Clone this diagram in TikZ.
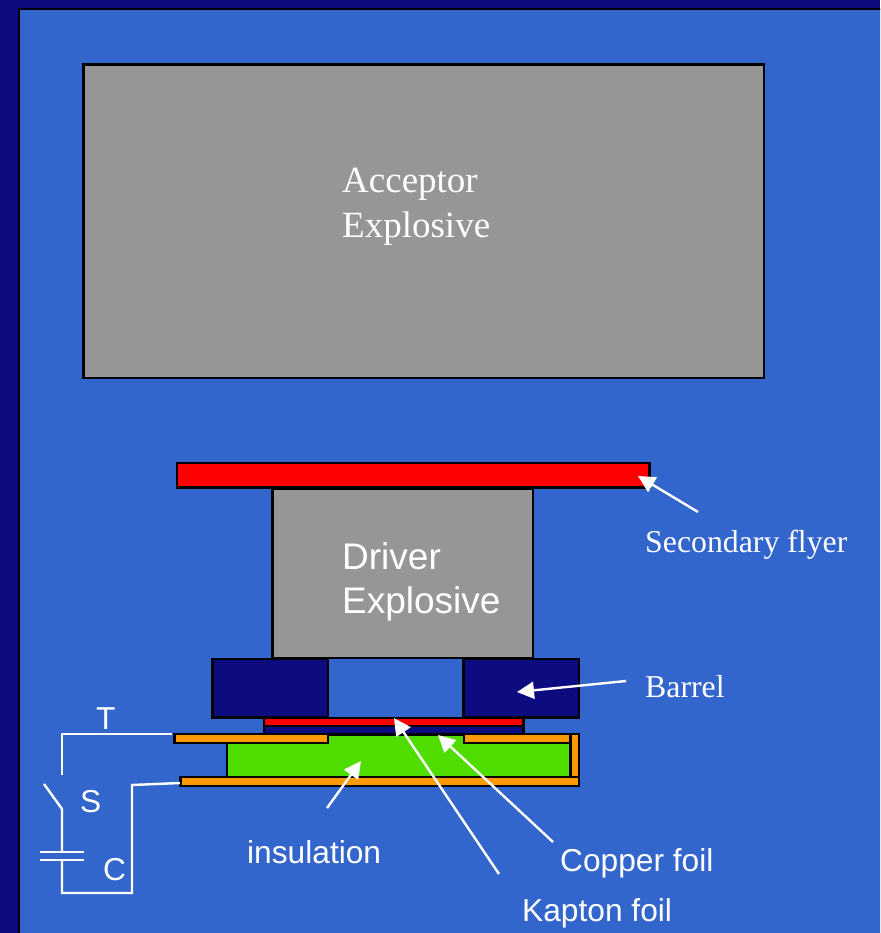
\documentclass[tikz,border=0pt]{standalone}
\usepackage{fontspec}
\setmainfont{Liberation Serif}
\setsansfont{Liberation Sans}
\usetikzlibrary{arrows.meta}
\definecolor{panelblue}{HTML}{3366CC}
\definecolor{navy}{HTML}{0C0C80}
\definecolor{boxgray}{HTML}{969696}
\definecolor{foilorange}{HTML}{FF9900}
\definecolor{insgreen}{HTML}{4FDD00}
\tikzset{
  part/.style={draw=black,line width=2.4pt,inner sep=0pt,outer sep=0pt,anchor=north west},
  big/.style={text=white,inner sep=0pt,anchor=base west,font=\fontsize{37}{45}\selectfont,align=left},
  seriflabel/.style={text=white,inner sep=0pt,anchor=base west,font=\fontsize{31.8}{36}\selectfont},
  sanslabel/.style={text=white,inner sep=0pt,anchor=base west,font=\sffamily\fontsize{31.7}{36}\selectfont},
  wire/.style={draw=white,line width=2.4pt,line join=miter},
  pointer/.style={draw=white,line width=2.4pt,-{Triangle[length=17pt,width=17pt]}}
}
\newcommand{\partbox}[6]{% name, x0, y0, x1, y1, fill
  \pgfmathsetmacro{\pw}{#4-#2}\pgfmathsetmacro{\ph}{#5-#3}
  \node[part,fill=#6,minimum width=\pw pt,minimum height=\ph pt] (#1) at (#2,#3) {};
}
\begin{document}
\begin{tikzpicture}[x=1pt,y=-1pt]
\useasboundingbox (0,0) rectangle (880,933);
\fill[navy] (0,0) rectangle (880,933);
\begin{scope}
\clip (0,0) rectangle (880,933);
\node[part,fill=panelblue,minimum width=870pt,minimum height=935pt] (panel) at (19,9) {};
\end{scope}
\partbox{acceptor}{83.5}{64.5}{764}{378}{boxgray}
\partbox{flyer}{177}{463}{649.5}{487.5}{red}
\partbox{driver}{272.5}{489}{533}{658}{boxgray}
\partbox{barrelL}{212.5}{659}{328}{717.5}{navy}
\partbox{barrelR}{463.5}{659}{579}{717.5}{navy}
\partbox{green}{227}{735}{571}{777}{insgreen}
\partbox{kaptonred}{264}{718}{523.5}{726}{red}
\partbox{kaptonnavy}{264}{726}{523.5}{734.5}{navy}
\partbox{topL}{174.5}{734}{328}{743}{foilorange}
\partbox{topR}{464}{734}{570.5}{743}{foilorange}
\partbox{side}{570.5}{734}{579}{777}{foilorange}
\partbox{bottom}{180.5}{777}{579}{786}{foilorange}
% labels
\node[big] (acceptorT) at (342,237.5) {Acceptor\\Explosive};
\node[big,font=\sffamily\fontsize{37}{44}\selectfont] (driverT) at (342,613) {Driver\\Explosive};
\node[seriflabel] (flyerT) at (645,552) {Secondary flyer};
\node[seriflabel] (barrelT) at (645,697) {Barrel};
\node[sanslabel] (insT) at (247,863) {insulation};
\node[sanslabel] (copperT) at (560,871) {Copper foil};
\node[sanslabel] (kaptonT) at (522,921) {Kapton foil};
\node[sanslabel] (tT) at (96,729) {T};
\node[sanslabel] (sT) at (80,812) {S};
\node[sanslabel] (cT) at (103,880) {C};
% pointer ends
\coordinate (flyerA) at (698,512);  \coordinate (flyerB) at (638,476);
\coordinate (barrelA) at (626,681); \coordinate (barrelB) at (517,692);
\coordinate (kaptonA) at (499,874); \coordinate (kaptonB) at (394,718);
\coordinate (copperA) at (553,842); \coordinate (copperB) at (438,735);
\coordinate (insA) at (327,808);    \coordinate (insB) at (361,761);
\draw[pointer] (flyerA) -- (flyerB);
\draw[pointer] (barrelA) -- (barrelB);
\draw[pointer] (kaptonA) -- (kaptonB);
\draw[pointer] (copperA) -- (copperB);
\draw[pointer] (insA) -- (insB);
% circuit
\coordinate (wT0) at (172,734); \coordinate (wT1) at (62,734); \coordinate (wT2) at (62,775);
\coordinate (swA) at (44,784);  \coordinate (swB) at (62,809);
\coordinate (capA) at (62,852); \coordinate (capB) at (62,860);
\coordinate (capAl) at (40,852); \coordinate (capAr) at (84,852);
\coordinate (capBl) at (40,860); \coordinate (capBr) at (84,860);
\coordinate (wB1) at (62,893);  \coordinate (wB2) at (132,893);
\coordinate (wB3) at (132,785); \coordinate (wB4) at (180,783);
\draw[wire] (wT0) -- (wT1) -- (wT2);
\draw[wire] (swA) -- (swB) -- (capA);
\draw[wire] (capAl) -- (capAr);
\draw[wire] (capBl) -- (capBr);
\draw[wire] (capB) -- (wB1) -- (wB2) -- (wB3) -- (wB4);
\end{tikzpicture}
\end{document}
